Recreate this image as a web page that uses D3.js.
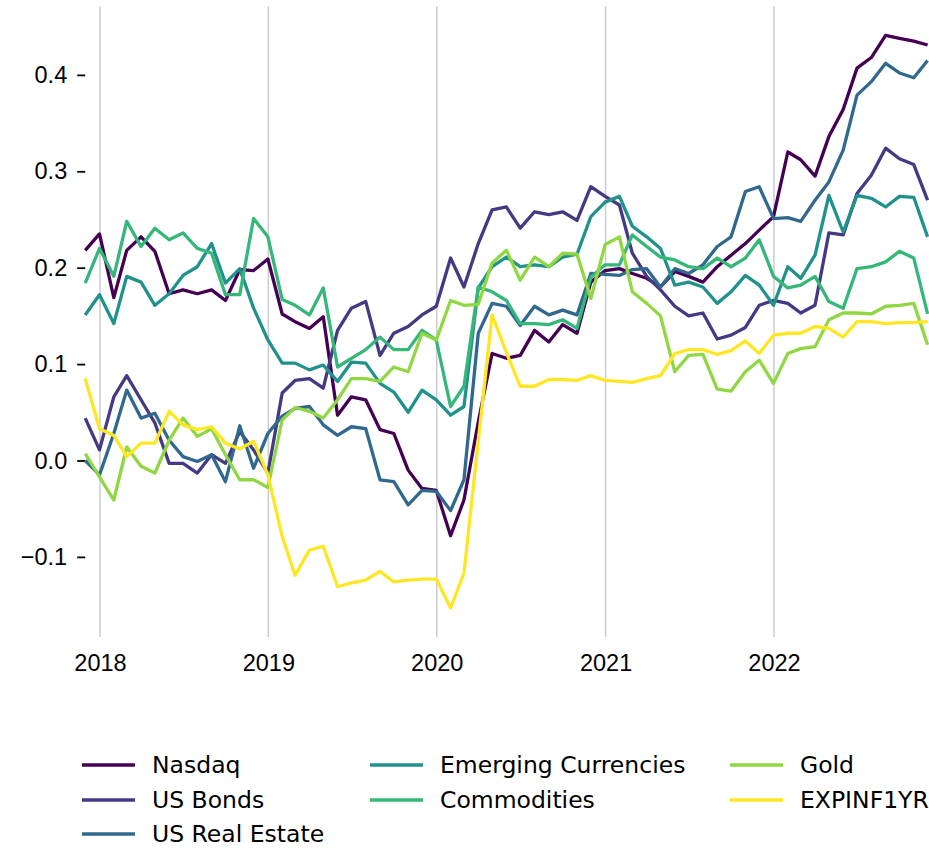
<!DOCTYPE html>
<meta charset="utf-8">
<style>
body { margin: 0; background: #fff; }
svg { font-family: 'DejaVu Sans', sans-serif; }
.grid line { stroke: #cccccc; stroke-width: 1.5px; }
.line { fill: none; stroke-width: 3.3px; stroke-linejoin: round; }
.axis text, .legend text { font-size: 23.5px; fill: #000; }
.axis line { stroke: #000; stroke-width: 1.8px; }
</style>
<body>
<script src="https://cdn.jsdelivr.net/npm/d3@7"></script>
<script>

// series names + viridis colours
var names = ["Nasdaq", "US Bonds", "US Real Estate", "Emerging Currencies", "Commodities", "Gold", "EXPINF1YR"];
var colors = ["#440154", "#443983", "#31688e", "#21918c", "#35b779", "#90d743", "#fde725"];

// month-end dates, Nov 2017 .. Nov 2022
var firstMonth = new Date(2017, 10, 30);
var monthCount = 61;

var xTickYears = [2018, 2019, 2020, 2021, 2022];
var yTicks = [-0.1, 0.0, 0.1, 0.2, 0.3, 0.4];

// values
var nasdaq = [0.218, 0.235, 0.169, 0.218, 0.232, 0.217, 0.173, 0.177, 0.173, 0.177, 0.166, 0.198, 0.197, 0.209, 0.152, 0.144, 0.137, 0.149, 0.047, 0.066, 0.063, 0.032, 0.028, -0.010, -0.029, -0.031, -0.078, -0.041, 0.040, 0.111, 0.106, 0.109, 0.135, 0.123, 0.141, 0.132, 0.185, 0.197, 0.199, 0.194, 0.189, 0.180, 0.196, 0.191, 0.185, 0.201, 0.213, 0.225, 0.239, 0.253, 0.320, 0.312, 0.295, 0.336, 0.364, 0.407, 0.418, 0.441, 0.438, 0.435, 0.431];
var usBonds = [0.044, 0.011, 0.066, 0.088, 0.063, 0.039, -0.003, -0.003, -0.013, 0.006, -0.003, 0.030, 0.011, -0.013, 0.070, 0.083, 0.085, 0.075, 0.135, 0.158, 0.165, 0.109, 0.132, 0.139, 0.151, 0.160, 0.210, 0.180, 0.225, 0.260, 0.263, 0.241, 0.258, 0.255, 0.258, 0.249, 0.284, 0.274, 0.265, 0.215, 0.191, 0.177, 0.160, 0.150, 0.153, 0.126, 0.130, 0.138, 0.161, 0.166, 0.163, 0.153, 0.161, 0.236, 0.234, 0.277, 0.296, 0.324, 0.313, 0.307, 0.270];
var usRealEstate = [0.000, -0.015, 0.028, 0.073, 0.044, 0.049, 0.021, 0.004, -0.001, 0.006, -0.022, 0.036, -0.008, 0.028, 0.046, 0.054, 0.056, 0.037, 0.026, 0.035, 0.033, -0.020, -0.022, -0.046, -0.031, -0.032, -0.052, -0.020, 0.132, 0.163, 0.160, 0.140, 0.160, 0.151, 0.156, 0.151, 0.194, 0.193, 0.192, 0.198, 0.199, 0.180, 0.199, 0.194, 0.203, 0.222, 0.232, 0.279, 0.284, 0.251, 0.252, 0.248, 0.270, 0.289, 0.322, 0.379, 0.393, 0.412, 0.402, 0.397, 0.415];
var emergingCurrencies = [0.151, 0.172, 0.142, 0.191, 0.185, 0.161, 0.173, 0.192, 0.201, 0.225, 0.184, 0.199, 0.158, 0.125, 0.101, 0.101, 0.094, 0.099, 0.082, 0.102, 0.101, 0.080, 0.071, 0.050, 0.073, 0.063, 0.047, 0.056, 0.179, 0.201, 0.211, 0.201, 0.203, 0.201, 0.211, 0.214, 0.253, 0.268, 0.274, 0.243, 0.232, 0.220, 0.182, 0.185, 0.180, 0.163, 0.175, 0.192, 0.182, 0.161, 0.201, 0.189, 0.213, 0.275, 0.237, 0.275, 0.272, 0.263, 0.274, 0.273, 0.232];
var commodities = [0.184, 0.220, 0.191, 0.248, 0.222, 0.241, 0.229, 0.236, 0.220, 0.215, 0.172, 0.172, 0.251, 0.232, 0.167, 0.161, 0.151, 0.179, 0.097, 0.106, 0.115, 0.128, 0.115, 0.115, 0.135, 0.125, 0.056, 0.077, 0.180, 0.175, 0.166, 0.142, 0.142, 0.141, 0.146, 0.137, 0.190, 0.203, 0.203, 0.234, 0.222, 0.211, 0.208, 0.201, 0.199, 0.210, 0.201, 0.210, 0.229, 0.191, 0.179, 0.182, 0.191, 0.165, 0.158, 0.199, 0.201, 0.206, 0.217, 0.210, 0.152];
var gold = [0.007, -0.017, -0.041, 0.014, -0.006, -0.013, 0.021, 0.044, 0.025, 0.033, 0.006, -0.020, -0.020, -0.028, 0.042, 0.055, 0.051, 0.044, 0.063, 0.085, 0.085, 0.082, 0.097, 0.092, 0.132, 0.125, 0.166, 0.161, 0.162, 0.205, 0.218, 0.187, 0.211, 0.201, 0.215, 0.214, 0.168, 0.224, 0.232, 0.175, 0.163, 0.150, 0.092, 0.109, 0.110, 0.074, 0.072, 0.092, 0.104, 0.080, 0.111, 0.116, 0.118, 0.146, 0.153, 0.153, 0.152, 0.160, 0.161, 0.163, 0.120];
var expInf1yr = [0.085, 0.033, 0.026, 0.004, 0.018, 0.018, 0.051, 0.037, 0.032, 0.035, 0.018, 0.012, 0.020, -0.015, -0.079, -0.119, -0.093, -0.089, -0.131, -0.127, -0.124, -0.115, -0.126, -0.124, -0.123, -0.123, -0.153, -0.117, 0.020, 0.151, 0.112, 0.077, 0.077, 0.084, 0.084, 0.083, 0.088, 0.083, 0.082, 0.081, 0.085, 0.088, 0.111, 0.115, 0.115, 0.110, 0.114, 0.124, 0.111, 0.130, 0.132, 0.132, 0.139, 0.137, 0.128, 0.144, 0.144, 0.142, 0.143, 0.143, 0.144];

var seriesValues = [nasdaq, usBonds, usRealEstate, emergingCurrencies, commodities, gold, expInf1yr];

var dates = d3.range(monthCount).map(function(i) {
  return new Date(firstMonth.getFullYear(), firstMonth.getMonth() + 1 + i, 0);
});

var series = names.map(function(name, k) {
  return {
    name: name,
    color: colors[k],
    values: seriesValues[k].map(function(v, i) { return {date: dates[i], value: v}; })
  };
});

var W = 929, H = 848;
var plot = {left: 85.2, right: 927.6, top: 6.45, bottom: 636.9};

var x = d3.scaleTime()
    .domain([dates[0], dates[dates.length - 1]])
    .range([plot.left, plot.right]);
var y = d3.scaleLinear()
    .domain([-0.183, 0.471])
    .range([plot.bottom, plot.top]);

var svg = d3.select("body").append("svg")
    .attr("width", W)
    .attr("height", H);

// vertical grid at each year
svg.append("g")
    .attr("class", "grid")
  .selectAll("line")
    .data(xTickYears)
  .enter().append("line")
    .attr("x1", function(d) { return x(new Date(d, 0, 1)); })
    .attr("x2", function(d) { return x(new Date(d, 0, 1)); })
    .attr("y1", plot.top)
    .attr("y2", plot.bottom);

// x axis, labels only
var xAxis = svg.append("g")
    .attr("class", "axis")
    .attr("transform", "translate(0," + plot.bottom + ")")
    .call(d3.axisBottom(x)
      .tickValues(xTickYears.map(function(d) { return new Date(d, 0, 1); }))
      .tickFormat(d3.timeFormat("%Y"))
      .tickSize(0)
      .tickPadding(17));
xAxis.select(".domain").remove();

// y axis
var yAxis = svg.append("g")
    .attr("class", "axis")
    .attr("transform", "translate(" + plot.left + ",0)")
    .call(d3.axisLeft(y)
      .tickValues(yTicks)
      .tickFormat(d3.format(".1f"))
      .tickSize(8)
      .tickPadding(10));
yAxis.select(".domain").remove();

var line = d3.line()
    .x(function(d) { return x(d.date); })
    .y(function(d) { return y(d.value); });

svg.append("g")
  .selectAll("path")
    .data(series)
  .enter().append("path")
    .attr("class", "line")
    .attr("stroke", function(d) { return d.color; })
    .attr("d", function(d) { return line(d.values); });

// legend: 3 columns filled 3, 2, 2
var colX = [82, 370, 730];
var rowY = [765, 800, 834];
var colOf = [0, 0, 0, 1, 1, 2, 2];
var rowOf = [0, 1, 2, 0, 1, 0, 1];
var legend = svg.append("g").attr("class", "legend");
var item = legend.selectAll("g")
    .data(series)
  .enter().append("g")
    .attr("transform", function(d, i) {
      return "translate(" + colX[colOf[i]] + "," + rowY[rowOf[i]] + ")";
    });
item.append("line")
    .attr("x1", 0).attr("x2", 53)
    .attr("stroke", function(d) { return d.color; })
    .attr("stroke-width", 3.3);
item.append("text")
    .attr("x", 70)
    .attr("dy", "0.35em")
    .text(function(d) { return d.name; });

</script>
</body>
